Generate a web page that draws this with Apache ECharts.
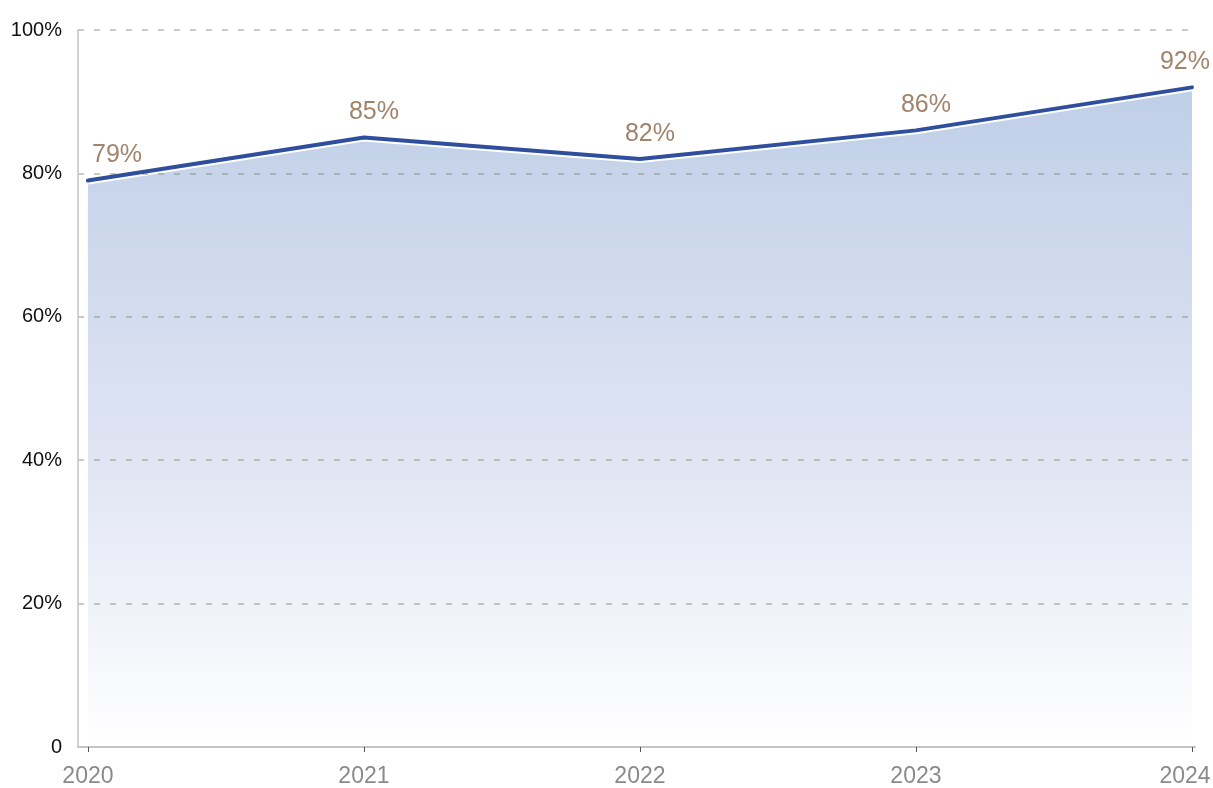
<!DOCTYPE html>
<html>
<head>
<meta charset="UTF-8">
<title>chart</title>
<script src="https://cdn.jsdelivr.net/npm/echarts@6/dist/echarts.min.js"></script>
<style>
    html, body { margin: 0; padding: 0; background: #fff; }
    #chart { width: 1213px; height: 788px; }
</style>
</head>
<body>
<div id="chart"></div>
<script>
    // data
    var years = [2020, 2021, 2022, 2023, 2024];
    var rates = [79, 85, 82, 86, 92];
    var yTicks = [0, 20, 40, 60, 80, 100];

    var points = years.map(function (y, i) { return [y, rates[i]]; });
    var lastYear = years[years.length - 1];

    var option = {
        animation: false,
        grid: { left: 78, right: 18, top: 30, bottom: 41, outerBoundsMode: 'none', containLabel: false },
        xAxis: {
            type: 'value',
            min: 2019.964,
            max: 2024.011,
            z: 4,
            splitLine: { show: false },
            axisLine: { show: true, lineStyle: { color: '#c4c4c4', width: 2 } },
            axisTick: { show: true, customValues: years, length: 5, lineStyle: { color: '#555', width: 1 } },
            axisLabel: {
                customValues: years,
                color: '#8a8a8a',
                fontSize: 23,
                fontFamily: 'Liberation Sans, Arial, sans-serif',
                margin: 18,
                formatter: function (v) {
                    // keep the last year inside the picture
                    return v === lastYear ? '{last|' + v + '}' : String(v);
                },
                rich: {
                    last: { color: '#8a8a8a', fontSize: 23, fontFamily: 'Liberation Sans, Arial, sans-serif', padding: [0, 14, 0, 0] }
                }
            }
        },
        yAxis: {
            type: 'value',
            min: 0,
            max: 100,
            interval: 20,
            z: 2.5,
            axisLine: { show: true, lineStyle: { color: '#c4c4c4', width: 1.5 } },
            axisTick: { show: false },
            axisLabel: {
                color: '#111',
                fontSize: 20,
                fontFamily: 'Liberation Sans, Arial, sans-serif',
                margin: 16,
                formatter: function (v) { return v === 0 ? '0' : v + '%'; }
            },
            splitLine: { show: true, lineStyle: { color: 'rgba(140,135,120,0.45)', type: [6, 10], width: 2 } }
        },
        series: [
            {
                // area with a thin white edge under the line
                type: 'line',
                data: points,
                symbol: 'none',
                z: 2,
                lineStyle: { color: '#ffffff', width: 8 },
                areaStyle: {
                    origin: 'start',
                    opacity: 1,
                    color: new echarts.graphic.LinearGradient(0, 0, 0, 1, [
                        { offset: 0, color: '#bfcfe7' },
                        { offset: 0.55, color: '#dfe4f3' },
                        { offset: 1, color: '#ffffff' }
                    ])
                }
            },
            {
                type: 'line',
                data: points,
                symbol: 'circle',
                symbolSize: 1,
                showSymbol: true,
                itemStyle: { color: 'rgba(0,0,0,0)' },
                z: 3,
                lineStyle: { color: '#2f4f9e', width: 4, cap: 'round' },
                label: {
                    show: true,
                    position: 'top',
                    distance: 12,
                    color: '#a0846c',
                    fontSize: 25,
                    fontFamily: 'Liberation Sans, Arial, sans-serif',
                    formatter: function (p) { return p.value[1] + '%'; }
                },
                labelLayout: function (p) {
                    // nudge right, but keep labels off the axis and inside the page
                    var r = p.labelRect;
                    var dx = 10;
                    if (r.x + dx < 92) dx = 92 - r.x;
                    if (r.x + r.width + dx > 1210) dx = 1210 - r.x - r.width;
                    return { dx: dx };
                }
            }
        ]
    };

    var myChart = echarts.init(document.getElementById('chart'));
    myChart.setOption(option);
</script>
</body>
</html>
